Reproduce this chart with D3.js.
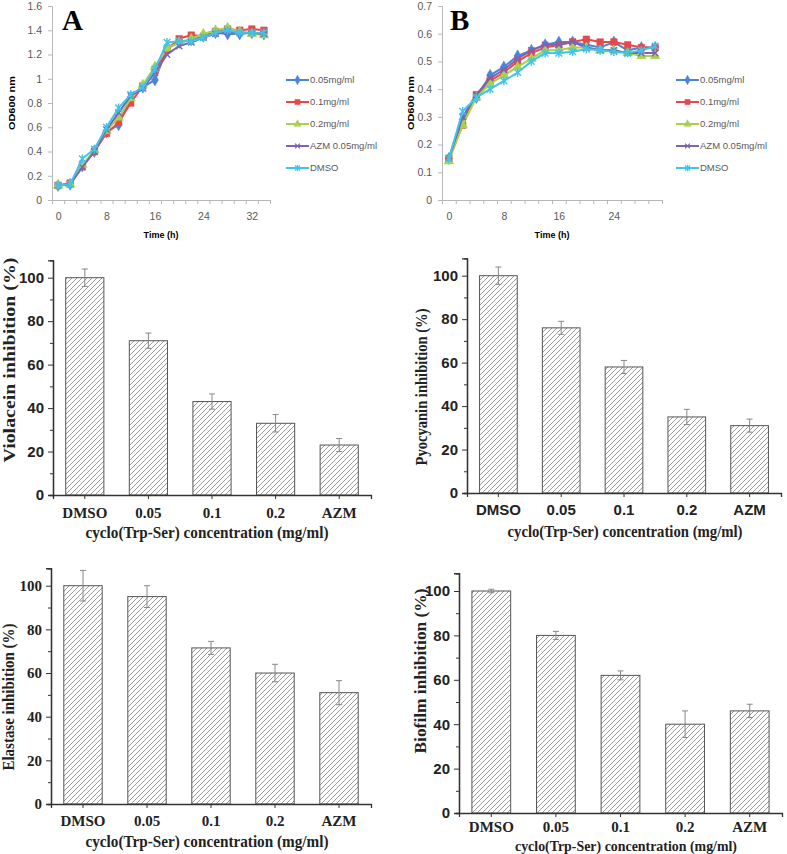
<!DOCTYPE html>
<html>
<head>
<meta charset="utf-8">
<script src="https://cdnjs.cloudflare.com/ajax/libs/d3/7.8.5/d3.min.js"></script>
<style>
  body { margin: 0; background: #fff; }
  svg { display: block; }
</style>
</head>
<body>
<svg id="fig" width="787" height="854"></svg>
<script>
// ---- data ----
const timesA = [0, 2, 4, 6, 8, 10, 12, 14, 16, 18, 20, 22, 24, 26, 28, 30, 32, 34];
const growthA_005 = [0.12, 0.13, 0.28, 0.40, 0.56, 0.62, 0.85, 0.93, 0.99, 1.25, 1.30, 1.32, 1.35, 1.38, 1.37, 1.37, 1.38, 1.37];
const growthA_01  = [0.12, 0.14, 0.28, 0.40, 0.55, 0.64, 0.80, 0.94, 1.07, 1.24, 1.33, 1.36, 1.35, 1.39, 1.41, 1.40, 1.41, 1.40];
const growthA_02  = [0.12, 0.13, 0.29, 0.41, 0.57, 0.68, 0.84, 0.95, 1.10, 1.25, 1.30, 1.33, 1.37, 1.40, 1.42, 1.39, 1.37, 1.36];
const growthA_azm = [0.12, 0.13, 0.27, 0.40, 0.58, 0.72, 0.86, 0.92, 1.05, 1.20, 1.27, 1.30, 1.34, 1.37, 1.39, 1.38, 1.38, 1.37];
const growthA_dmso= [0.12, 0.13, 0.34, 0.42, 0.60, 0.76, 0.87, 0.93, 1.08, 1.30, 1.31, 1.31, 1.34, 1.38, 1.40, 1.38, 1.38, 1.38];

const timesB = [0, 2, 4, 6, 8, 10, 12, 14, 16, 18, 20, 22, 24, 26, 28, 30];
const growthB_005 = [0.15, 0.29, 0.37, 0.45, 0.48, 0.52, 0.54, 0.56, 0.57, 0.57, 0.56, 0.55, 0.57, 0.54, 0.55, 0.55];
const growthB_01  = [0.15, 0.27, 0.38, 0.43, 0.46, 0.50, 0.53, 0.55, 0.56, 0.57, 0.58, 0.57, 0.57, 0.56, 0.55, 0.55];
const growthB_02  = [0.14, 0.27, 0.37, 0.42, 0.45, 0.48, 0.51, 0.54, 0.54, 0.55, 0.55, 0.54, 0.54, 0.53, 0.52, 0.52];
const growthB_azm = [0.15, 0.30, 0.38, 0.44, 0.47, 0.51, 0.54, 0.56, 0.56, 0.57, 0.55, 0.54, 0.54, 0.53, 0.53, 0.53];
const growthB_dmso= [0.15, 0.32, 0.37, 0.40, 0.43, 0.46, 0.50, 0.53, 0.53, 0.535, 0.545, 0.54, 0.535, 0.53, 0.54, 0.555];

const seriesNames = ['0.05mg/ml', '0.1mg/ml', '0.2mg/ml', 'AZM 0.05mg/ml', 'DMSO'];
const yTicksA = [0, 0.2, 0.4, 0.6, 0.8, 1, 1.2, 1.4, 1.6];
const yTicksB = [0, 0.1, 0.2, 0.3, 0.4, 0.5, 0.6, 0.7];
const xLabelsA = [0, 8, 16, 24, 32];
const xLabelsB = [0, 8, 16, 24];

const categories = ['DMSO', '0.05', '0.1', '0.2', 'AZM'];
const violacein = [100, 71, 43, 33, 23];
const violaceinErr = [4, 3.5, 3.5, 4, 3];
const pyocyanin = [100, 76, 58, 35, 31];
const pyocyaninErr = [4, 3, 3, 3.5, 3];
const elastase = [100, 95, 71.5, 60, 51];
const elastaseErr = [7, 5, 3, 4, 5.5];
const biofilm = [100, 80, 62, 40, 46];
const biofilmErr = [0.8, 1.8, 2, 6, 3];
const barTicks = [0, 20, 40, 60, 80, 100];
const barMinorTicks = [10, 30, 50, 70, 90];

// ---- styles ----
const svg = d3.select('#fig');
const SANS = 'Liberation Sans, Arial, sans-serif';
const SERIF = 'Liberation Serif, Times New Roman, serif';
const seriesColors = ['#4a86d6', '#e8474c', '#a8d24a', '#7f62b0', '#3fc4ec'];

const xSym = { draw(c, s) { const r = Math.sqrt(s) / 2; c.moveTo(-r, -r); c.lineTo(r, r); c.moveTo(r, -r); c.lineTo(-r, r); } };
const starSym = { draw(c, s) { const r = Math.sqrt(s) / 2; c.moveTo(-r, -r); c.lineTo(r, r); c.moveTo(r, -r); c.lineTo(-r, r); c.moveTo(0, -r * 1.3); c.lineTo(0, r * 1.3); } };
const markers = [
  { type: d3.symbolDiamond, size: 42, filled: true },
  { type: d3.symbolSquare, size: 44, filled: true },
  { type: d3.symbolTriangle, size: 40, filled: true },
  { type: xSym, size: 40, filled: false },
  { type: starSym, size: 44, filled: false }
];

// hatch for bars
svg.append('defs').append('pattern')
    .attr('id', 'hatch')
    .attr('patternUnits', 'userSpaceOnUse')
    .attr('width', 5).attr('height', 5)
  .append('path')
    .attr('d', 'M-1,1 l2,-2 M0,5 l5,-5 M4,6 l2,-2')
    .attr('stroke', '#7a7a7a')
    .attr('stroke-width', 0.75);

function drawGrowth(cfg) {
  const g = svg.append('g');
  const x = d3.scaleLinear().domain([-1, cfg.times[cfg.times.length - 1] + 1]).range([cfg.left, cfg.right]);
  const y = d3.scaleLinear().domain([0, cfg.ymax]).range([cfg.bottom, cfg.top]);

  g.append('g')
      .attr('transform', 'translate(' + cfg.left + ',0)')
      .call(d3.axisLeft(y).tickValues(cfg.yTicks).tickSize(4).tickPadding(6)
        .tickFormat(d => String(+d.toFixed(1))));
  // tick marks sit between categories
  const boundaries = d3.range(-1, cfg.times[cfg.times.length - 1] + 2, 2);
  g.append('g')
      .attr('transform', 'translate(0,' + cfg.bottom + ')')
      .call(d3.axisBottom(x).tickValues(boundaries).tickSize(4).tickFormat(''));
  g.append('g')
      .attr('transform', 'translate(0,' + cfg.bottom + ')')
      .call(d3.axisBottom(x).tickValues(cfg.xLabels).tickSize(0).tickPadding(13).tickFormat(d3.format('d')))
      .call(a => a.select('.domain').remove());
  g.selectAll('.domain, .tick line').attr('stroke', '#b8b8b8');
  g.selectAll('.tick text').attr('fill', '#595959').attr('font-family', SANS).attr('font-size', 10.5);

  cfg.series.forEach((vals, i) => {
    const pts = cfg.times.map((t, j) => [x(t), y(vals[j])]);
    g.append('path')
        .attr('d', d3.line()(pts))
        .attr('fill', 'none')
        .attr('stroke', seriesColors[i])
        .attr('stroke-width', 2);
    const m = markers[i];
    g.selectAll(null).data(pts).enter().append('path')
        .attr('transform', p => 'translate(' + p[0] + ',' + p[1] + ')')
        .attr('d', d3.symbol(m.type, m.size)())
        .attr('fill', m.filled ? seriesColors[i] : 'none')
        .attr('stroke', seriesColors[i])
        .attr('stroke-width', m.filled ? 0.5 : 1.4);
  });

  // legend
  const lg = g.append('g');
  seriesNames.forEach((name, i) => {
    const yy = cfg.legendY + i * 22;
    lg.append('line')
        .attr('x1', cfg.legendX).attr('x2', cfg.legendX + 23)
        .attr('y1', yy).attr('y2', yy)
        .attr('stroke', seriesColors[i]).attr('stroke-width', 2);
    const m = markers[i];
    lg.append('path')
        .attr('transform', 'translate(' + (cfg.legendX + 11.5) + ',' + yy + ')')
        .attr('d', d3.symbol(m.type, m.size * 0.6)())
        .attr('fill', m.filled ? seriesColors[i] : 'none')
        .attr('stroke', seriesColors[i])
        .attr('stroke-width', m.filled ? 0.5 : 1.2);
    lg.append('text')
        .attr('x', cfg.legendX + 24).attr('y', yy).attr('dy', '0.35em')
        .attr('font-family', SANS).attr('font-size', 9.5).attr('fill', '#595959')
        .text(name);
  });

  g.append('text')
      .attr('transform', 'translate(' + cfg.yTitleX + ',' + cfg.yTitleY + ') rotate(-90)')
      .attr('text-anchor', 'middle')
      .attr('font-family', SANS).attr('font-weight', 'bold').attr('font-size', 9)
      .attr('fill', '#000')
      .attr('textLength', 54).attr('lengthAdjust', 'spacingAndGlyphs')
      .text('OD600 nm');
  g.append('text')
      .attr('x', cfg.xTitleX).attr('y', 238)
      .attr('text-anchor', 'middle')
      .attr('font-family', SANS).attr('font-weight', 'bold').attr('font-size', 9)
      .attr('fill', '#000')
      .text('Time (h)');
  g.append('text')
      .attr('x', cfg.letterX).attr('y', 30)
      .attr('font-family', SERIF).attr('font-weight', 'bold').attr('font-size', 29)
      .text(cfg.letter);
}

drawGrowth({
  times: timesA, series: [growthA_005, growthA_01, growthA_02, growthA_azm, growthA_dmso],
  ymax: 1.6, yTicks: yTicksA, xLabels: xLabelsA,
  left: 52, right: 270, top: 6, bottom: 200,
  legendX: 286, legendY: 80, yTitleX: 15, yTitleY: 103, xTitleX: 161,
  letter: 'A', letterX: 62
});
drawGrowth({
  times: timesB, series: [growthB_005, growthB_01, growthB_02, growthB_azm, growthB_dmso],
  ymax: 0.7, yTicks: yTicksB, xLabels: xLabelsB,
  left: 442, right: 662, top: 6, bottom: 200,
  legendX: 676, legendY: 80, yTitleX: 414, yTitleY: 103, xTitleX: 552,
  letter: 'B', letterX: 450
});

function drawBars(cfg) {
  const g = svg.append('g');
  const x = d3.scaleBand().domain(categories).range([cfg.left, cfg.right]).paddingInner(0.4).paddingOuter(0.2);
  const y = d3.scaleLinear().domain([0, 108]).range([cfg.zero, cfg.zero - 108 * cfg.k]);

  g.selectAll(null).data(cfg.values).enter().append('rect')
      .attr('x', (d, i) => x(categories[i]))
      .attr('width', x.bandwidth())
      .attr('y', d => y(d))
      .attr('height', d => y(0) - y(d))
      .attr('fill', 'url(#hatch)')
      .attr('stroke', '#555')
      .attr('stroke-width', 1);

  // error bars
  const eb = g.selectAll(null).data(cfg.values).enter().append('g')
      .attr('transform', (d, i) => 'translate(' + (x(categories[i]) + x.bandwidth() / 2) + ',0)');
  eb.append('line')
      .attr('y1', (d, i) => y(d - cfg.errs[i])).attr('y2', (d, i) => y(d + cfg.errs[i]))
      .attr('stroke', '#888').attr('stroke-width', 1);
  [1, -1].forEach(sgn => {
    eb.append('line')
        .attr('x1', -3).attr('x2', 3)
        .attr('y1', (d, i) => y(d + sgn * cfg.errs[i])).attr('y2', (d, i) => y(d + sgn * cfg.errs[i]))
        .attr('stroke', '#888').attr('stroke-width', 1);
  });

  // axes
  g.append('g')
      .attr('transform', 'translate(' + cfg.left + ',0)')
      .call(d3.axisLeft(y).tickValues(barMinorTicks).tickSize(3).tickFormat(''));
  g.append('g')
      .attr('class', 'yax')
      .attr('transform', 'translate(' + cfg.left + ',0)')
      .call(d3.axisLeft(y).tickValues(barTicks).tickSize(5).tickPadding(cfg.yPad));
  g.append('g')
      .attr('class', 'xax')
      .attr('transform', 'translate(0,' + cfg.zero + ')')
      .call(d3.axisBottom(x).tickSize(4).tickPadding(cfg.xPad));
  g.selectAll('.domain').attr('stroke', '#333').attr('stroke-width', 1.3);
  g.selectAll('.tick line').attr('stroke', '#333').attr('stroke-width', 1);
  g.selectAll('.yax .tick text')
      .attr('font-family', cfg.yFont).attr('font-weight', 'bold').attr('font-size', 15).attr('fill', '#222');
  g.selectAll('.xax .tick text')
      .attr('font-family', cfg.xFont).attr('font-weight', 'bold').attr('font-size', 15).attr('fill', '#222');

  g.append('text')
      .attr('transform', 'translate(' + cfg.yTitleX + ',' + cfg.yTitleY + ') rotate(-90)')
      .attr('text-anchor', 'middle').attr('dy', '0.35em')
      .attr('font-family', SERIF).attr('font-weight', 'bold').attr('font-size', 17)
      .attr('fill', '#222')
      .attr('textLength', cfg.yTitleLen).attr('lengthAdjust', 'spacingAndGlyphs')
      .text(cfg.yTitle);
  g.append('text')
      .attr('x', cfg.xTitleX).attr('y', cfg.xTitleY)
      .attr('text-anchor', 'middle')
      .attr('font-family', SERIF).attr('font-weight', 'bold').attr('font-size', cfg.xTitleSize)
      .attr('fill', '#222')
      .attr('textLength', cfg.xTitleLen).attr('lengthAdjust', 'spacingAndGlyphs')
      .text('cyclo(Trp-Ser) concentration (mg/ml)');
}

drawBars({
  values: violacein, errs: violaceinErr, left: 53, right: 371, zero: 495, k: 2.173,
  yFont: SANS, xFont: SERIF, yPad: 4, xPad: 8,
  yTitle: 'Violacein inhibition (%)', yTitleX: 9, yTitleY: 360, yTitleLen: 205,
  xTitleX: 207, xTitleY: 538, xTitleLen: 243, xTitleSize: 16
});
drawBars({
  values: pyocyanin, errs: pyocyaninErr, left: 467, right: 781, zero: 493, k: 2.173,
  yFont: SANS, xFont: SANS, yPad: 4, xPad: 7,
  yTitle: 'Pyocyanin inhibition (%)', yTitleX: 421, yTitleY: 387, yTitleLen: 157,
  xTitleX: 625, xTitleY: 537, xTitleLen: 235, xTitleSize: 16
});
drawBars({
  values: elastase, errs: elastaseErr, left: 51, right: 371, zero: 804, k: 2.183,
  yFont: SERIF, xFont: SERIF, yPad: 4, xPad: 7,
  yTitle: 'Elastase inhibition (%)', yTitleX: 8, yTitleY: 697, yTitleLen: 147,
  xTitleX: 207, xTitleY: 847, xTitleLen: 243, xTitleSize: 16
});
drawBars({
  values: biofilm, errs: biofilmErr, left: 459, right: 782, zero: 813, k: 2.22,
  yFont: SANS, xFont: SERIF, yPad: 4, xPad: 4,
  yTitle: 'Biofilm inhibition (%)', yTitleX: 420, yTitleY: 671, yTitleLen: 165,
  xTitleX: 626, xTitleY: 851, xTitleLen: 222, xTitleSize: 14
});
</script>
</body>
</html>
